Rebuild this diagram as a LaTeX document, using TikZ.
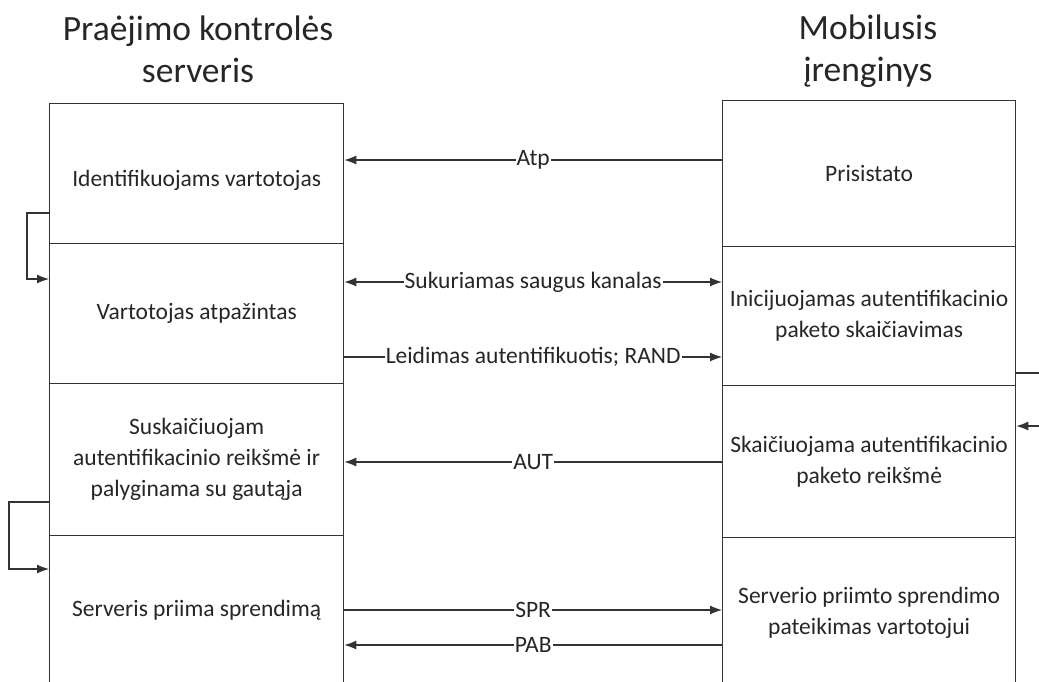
\documentclass[tikz,border=0pt]{standalone}
\usepackage{fontspec}
\setmainfont{Carlito}
\usetikzlibrary{arrows.meta}
\begin{document}
\begin{tikzpicture}[x=1pt,y=-1pt,
  stage/.style={draw=black!80, line width=1.3pt, align=center, text=black!85,
    font=\fontsize{23.5}{31}\selectfont, inner sep=0pt, anchor=north west},
  head/.style={align=center, text=black!85, font=\fontsize{35.5}{42}\selectfont},
  msg/.style={draw=black!80, line width=1.1pt},
  tip/.style={-{Latex[length=12pt,width=9pt]}},
  both/.style={{Latex[length=12pt,width=9pt]}-{Latex[length=12pt,width=9pt]}},
  lbl/.style={fill=white, inner sep=1pt, text=black!85,
    font=\fontsize{23.5}{26}\selectfont}]
\useasboundingbox (0,0) rectangle (1039,681);
\clip (0,0) rectangle (1039,681);

% column headings
\node[head] (hl) at (198,49) {Praėjimo kontrolės\\serveris};
\node[head] (hr) at (868,51) {Mobilusis\\įrenginys};

% access control server stages
\node[stage, minimum width=294pt, minimum height=140pt, text height=31pt, text depth=6pt] (l1) at (49,103) {Identifikuojams vartotojas};
\node[stage, minimum width=294pt, minimum height=140pt] (l2) at (49,243) {Vartotojas atpažintas};
\node[stage, minimum width=294pt, minimum height=152pt] (l3) at (49,383) {Suskaičiuojam\\autentifikacinio reikšmė ir\\palyginama su gautąja};
\node[stage, minimum width=294pt, minimum height=150pt] (l4) at (49,535) {Serveris priima sprendimą};

% mobile device stages
\node[stage, minimum width=293pt, minimum height=146pt] (r1) at (722,100) {Prisistato};
\node[stage, minimum width=293pt, minimum height=139pt] (r2) at (722,246) {Inicijuojamas autentifikacinio\\paketo skaičiavimas};
\node[stage, minimum width=293pt, minimum height=152pt] (r3) at (722,385) {Skaičiuojama autentifikacinio\\paketo reikšmė};
\node[stage, minimum width=293pt, minimum height=150pt] (r4) at (722,537) {Serverio priimto sprendimo\\pateikimas vartotojui};

% messages
\draw[msg,tip] (r1.west |- 0,160) -- node[lbl] {Atp} (l1.east |- 0,160);
\draw[msg,both] (l2.east |- 0,282) -- node[lbl] {Sukuriamas saugus kanalas} (r2.west |- 0,282);
\draw[msg,tip] (l2.east |- 0,357) -- node[lbl] {Leidimas autentifikuotis; RAND} (r2.west |- 0,357);
\draw[msg,tip] (r3.west |- 0,462) -- node[lbl] {AUT} (l3.east |- 0,462);
\draw[msg,tip] (l4.east |- 0,610) -- node[lbl] {SPR} (r4.west |- 0,610);
\draw[msg,tip] (r4.west |- 0,645) -- node[lbl] {PAB} (l4.east |- 0,645);

% internal transitions
\draw[msg,tip] (l1.west |- 0,213) -- ++(-22,0) |- (l2.west |- 0,279);
\draw[msg,tip] (l3.west |- 0,502) -- ++(-40,0) |- (l4.west |- 0,569);
\draw[msg,tip] (r2.east |- 0,373) -- ++(40,0) |- (r3.east |- 0,426);
\end{tikzpicture}
\end{document}
